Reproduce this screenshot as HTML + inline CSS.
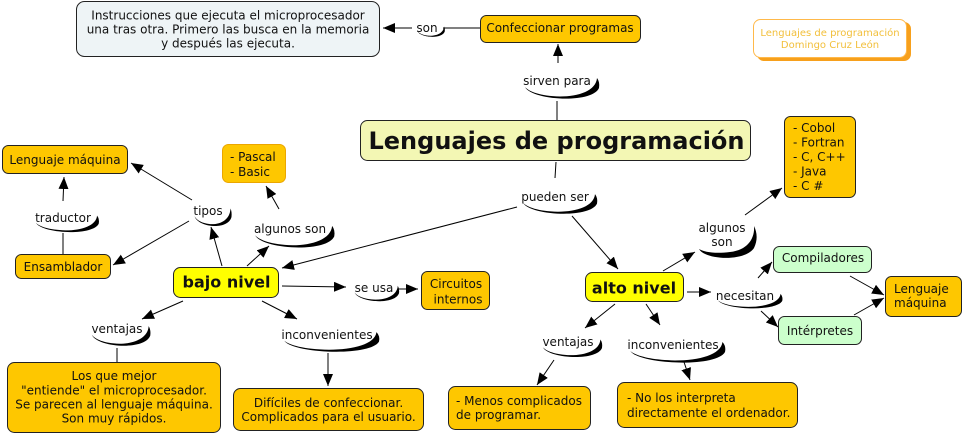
<!DOCTYPE html>
<html><head><meta charset="utf-8"><style>
html,body{margin:0;padding:0;background:#fff;}
svg{display:block;}
text{font-family:"DejaVu Sans","Liberation Sans",sans-serif;font-size:12px;fill:#111;}
.b{font-weight:bold;}
.c{text-anchor:middle;}
</style></head><body>
<svg width="963" height="436" viewBox="0 0 963 436" xmlns="http://www.w3.org/2000/svg">
<defs>
<marker id="ar" viewBox="0 0 12 10" markerWidth="12" markerHeight="10" refX="12" refY="5" orient="auto" markerUnits="userSpaceOnUse">
<path d="M0,0 L12,5 L0,10 z" fill="#000"/></marker>
<path id="sw" d="M1,6 C8,19.5 68,23 75,7 Q76,1 73,-3 C72,9.5 55,15.5 36,15.5 C16,15 5,10.5 1,6 Z" fill="#000"/>
</defs>

<!-- connectors -->
<g stroke="#000" stroke-width="1" fill="none">
<line x1="412" y1="28" x2="383" y2="28" marker-end="url(#ar)"/>
<line x1="443" y1="28" x2="480" y2="28"/>
<line x1="558" y1="63" x2="558" y2="44" marker-end="url(#ar)"/>
<line x1="557" y1="101" x2="557" y2="120"/>
<line x1="556" y1="162" x2="555" y2="178"/>
<line x1="517" y1="207" x2="282" y2="268" marker-end="url(#ar)"/>
<line x1="572" y1="216" x2="618" y2="269" marker-end="url(#ar)"/>
<line x1="192" y1="200" x2="131" y2="163" marker-end="url(#ar)"/>
<line x1="189" y1="221" x2="113" y2="265" marker-end="url(#ar)"/>
<line x1="63" y1="201" x2="64" y2="177" marker-end="url(#ar)"/>
<line x1="63" y1="254" x2="63" y2="233"/>
<line x1="222" y1="266" x2="211" y2="227" marker-end="url(#ar)"/>
<line x1="247" y1="266" x2="269" y2="246" marker-end="url(#ar)"/>
<line x1="279" y1="209" x2="266" y2="186" marker-end="url(#ar)"/>
<line x1="282" y1="286" x2="346" y2="287" marker-end="url(#ar)"/>
<line x1="398" y1="289" x2="418" y2="289" marker-end="url(#ar)"/>
<line x1="183" y1="301" x2="142" y2="319" marker-end="url(#ar)"/>
<line x1="117" y1="348" x2="117" y2="362"/>
<line x1="262" y1="301" x2="297" y2="319" marker-end="url(#ar)"/>
<line x1="328" y1="353" x2="328" y2="386" marker-end="url(#ar)"/>
<line x1="663" y1="271" x2="695" y2="252" marker-end="url(#ar)"/>
<line x1="745" y1="215" x2="782" y2="188" marker-end="url(#ar)"/>
<line x1="687" y1="292" x2="711" y2="292" marker-end="url(#ar)"/>
<line x1="758" y1="278" x2="772" y2="262" marker-end="url(#ar)"/>
<line x1="761" y1="311" x2="778" y2="327" marker-end="url(#ar)"/>
<line x1="850" y1="276" x2="884" y2="295" marker-end="url(#ar)"/>
<line x1="854" y1="315" x2="884" y2="298" marker-end="url(#ar)"/>
<line x1="615" y1="304" x2="585" y2="328" marker-end="url(#ar)"/>
<line x1="554" y1="360" x2="537" y2="385" marker-end="url(#ar)"/>
<line x1="646" y1="304" x2="660" y2="325" marker-end="url(#ar)"/>
<line x1="684" y1="362" x2="690" y2="380" marker-end="url(#ar)"/>
</g>

<!-- swooshes -->
<use href="#sw" transform="translate(417,28) scale(0.37,0.5)"/>
<use href="#sw" transform="translate(524,81) scale(1,1)"/>
<use href="#sw" transform="translate(522,197) scale(1,0.95)"/>
<use href="#sw" transform="translate(35,218) scale(0.85,0.8)"/>
<use href="#sw" transform="translate(194,211) scale(0.5,0.85)"/>
<use href="#sw" transform="translate(254,229) scale(1.07,1.05)"/>
<use href="#sw" transform="translate(354,288) scale(0.6,0.75)"/>
<use href="#sw" transform="translate(91,329) scale(0.79,0.95)"/>
<use href="#sw" transform="translate(283,335) scale(1.28,0.95)"/>
<use href="#sw" transform="translate(717,296) scale(0.87,0.7)"/>
<use href="#sw" transform="translate(542,342) scale(0.8,0.85)"/>
<use href="#sw" transform="translate(629,345) scale(1.28,1)"/>
<path d="M699,249 C705,260 745,262 754,248 C758,240 757,232 754,226 C755,238 748,250 730,252 C715,254 704,252 699,249 Z" fill="#000"/>

<!-- boxes -->
<g stroke="#222" stroke-width="1">
<rect x="76.5" y="1.5" width="303" height="55" rx="8" fill="#eef4f6"/>
<rect x="480.5" y="15.5" width="160" height="27" rx="6" fill="#fec700"/>
<rect x="360.5" y="120.5" width="390" height="40" rx="7" fill="#f3f7b4"/>
<rect x="784.5" y="116.5" width="71" height="81" rx="6" fill="#fec700"/>
<rect x="2.5" y="145.5" width="125" height="28" rx="6" fill="#fec700"/>
<rect x="15.5" y="254.5" width="95" height="24" rx="6" fill="#fec700"/>
<rect x="173.5" y="267.5" width="105" height="30" rx="7" fill="#ffff00"/>
<rect x="421.5" y="271.5" width="68" height="38" rx="6" fill="#fec700"/>
<rect x="7.5" y="362.5" width="213" height="70" rx="7" fill="#fec700"/>
<rect x="233.5" y="388.5" width="190" height="42" rx="7" fill="#fec700"/>
<rect x="448.5" y="386.5" width="142" height="43" rx="7" fill="#fec700"/>
<rect x="617.5" y="382.5" width="180" height="45" rx="7" fill="#fec700"/>
<rect x="585.5" y="272.5" width="98" height="29" rx="7" fill="#ffff00"/>
<rect x="773.5" y="246.5" width="98" height="26" rx="6" fill="#ccffcc"/>
<rect x="778.5" y="316.5" width="83" height="28" rx="6" fill="#ccffcc"/>
<rect x="885.5" y="276.5" width="76" height="40" rx="6" fill="#fec700"/>
</g>
<rect x="222.5" y="144.5" width="63" height="38" rx="6" fill="#fec700" stroke="#eba600"/>
<rect x="757" y="22" width="154" height="39" rx="7" fill="#f7a01c"/>
<rect x="753.5" y="19.5" width="153" height="38" rx="7" fill="#fff" stroke="#ffb94a"/>

<!-- text -->
<text class="c" x="228" y="19.5">Instrucciones que ejecuta el microprocesador</text>
<text class="c" x="228" y="33.5">una tras otra. Primero las busca en la memoria</text>
<text class="c" x="228" y="47.5">y después las ejecuta.</text>
<text class="c" x="427" y="32">son</text>
<text class="c" x="560" y="32">Confeccionar programas</text>
<text class="c" x="557" y="85">sirven para</text>
<text class="c b" x="556.5" y="149" style="font-size:24px">Lenguajes de programación</text>
<text class="c" x="830" y="36" style="font-size:10px;fill:#f2bf3a">Lenguajes de programación</text>
<text class="c" x="830" y="48" style="font-size:10px;fill:#f2bf3a">Domingo Cruz León</text>
<text class="c" x="555" y="201">pueden ser</text>
<text x="793" y="132">- Cobol</text>
<text x="793" y="146.5">- Fortran</text>
<text x="793" y="161">- C, C++</text>
<text x="793" y="175.5">- Java</text>
<text x="793" y="190">- C #</text>
<text class="c" x="65" y="164">Lenguaje máquina</text>
<text x="230" y="161">- Pascal</text>
<text x="230" y="176">- Basic</text>
<text class="c" x="63" y="222">traductor</text>
<text class="c" x="208" y="215">tipos</text>
<text class="c" x="290" y="233">algunos son</text>
<text class="c" x="63" y="271">Ensamblador</text>
<text class="c b" x="226.5" y="287.5" style="font-size:16px">bajo nivel</text>
<text class="c" x="374" y="292">se usa</text>
<text class="c" x="456" y="288">Circuitos</text>
<text class="c" x="458" y="303.5">internos</text>
<text class="c" x="117" y="333">ventajas</text>
<text class="c" x="327" y="339">inconvenientes</text>
<text class="c" x="114" y="380">Los que mejor</text>
<text class="c" x="114" y="394.5">"entiende" el microprocesador.</text>
<text class="c" x="114" y="408.5">Se parecen al lenguaje máquina.</text>
<text class="c" x="114" y="422.5">Son muy rápidos.</text>
<text class="c" x="328.5" y="407">Difíciles de confeccionar.</text>
<text class="c" x="328.5" y="421">Complicados para el usuario.</text>
<text x="456" y="405">- Menos complicados</text>
<text x="456" y="419">de programar.</text>
<text x="627" y="402">- No los interpreta</text>
<text x="627" y="417">directamente el ordenador.</text>
<text class="c b" x="634" y="293.5" style="font-size:16px">alto nivel</text>
<text class="c" x="722" y="232">algunos</text>
<text class="c" x="722" y="246">son</text>
<text class="c" x="745" y="300">necesitan</text>
<text class="c" x="823" y="262">Compiladores</text>
<text class="c" x="820" y="335">Intérpretes</text>
<text x="894" y="293">Lenguaje</text>
<text x="894" y="307">máquina</text>
<text class="c" x="568" y="346">ventajas</text>
<text class="c" x="673" y="349">inconvenientes</text>
</svg>
</body></html>
